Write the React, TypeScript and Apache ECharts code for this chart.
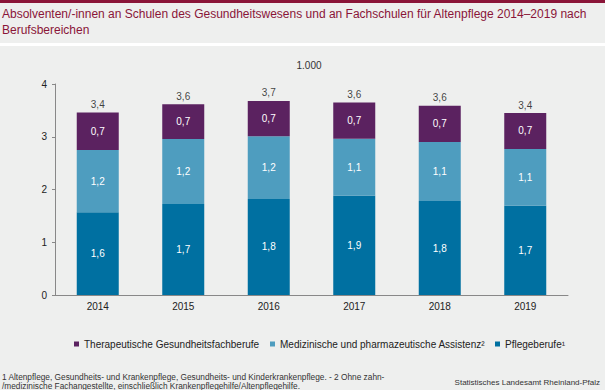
import React, { useEffect, useRef } from "react";
import * as echarts from "echarts";

const years = ["2014", "2015", "2016", "2017", "2018", "2019"];
const pflegeberufe = [1.57, 1.725, 1.82, 1.88, 1.78, 1.69];
const medizinisch = [1.18, 1.23, 1.19, 1.08, 1.12, 1.08];
const therapeutisch = [0.71, 0.66, 0.67, 0.69, 0.69, 0.68];
const totalLabels = ["3,4", "3,6", "3,7", "3,6", "3,6", "3,4"];
const yTicks = [0, 1, 2, 3, 4];

const names = [
  "Therapeutische Gesundheitsfachberufe",
  "Medizinische und pharmazeutische Assistenz²",
  "Pflegeberufe¹",
];
const colors = ["#5b2260", "#4e9dbf", "#0070a1"];
const FONT = "'Liberation Sans', Arial, sans-serif";

const fmt = (v: number) => v.toFixed(1).replace(".", ",");

export default function App() {
  const ref = useRef<HTMLDivElement>(null);
  useEffect(() => {
    if (!ref.current) return;
    const chart = echarts.init(ref.current, undefined, { renderer: "svg" });
    const totals = years.map((_, i) => pflegeberufe[i] + medizinisch[i] + therapeutisch[i]);
    const segLabel = {
      show: true,
      position: "inside" as const,
      color: "#ffffff",
      fontSize: 10,
      fontFamily: FONT,
      formatter: (p: any) => fmt(p.value),
    };
    const legendBase = {
      top: 334,
      itemWidth: 5,
      itemHeight: 5,
      icon: "rect",
      itemGap: 5,
      selectedMode: false,
      textStyle: { fontSize: 10, color: "#222", fontFamily: FONT },
    };
    chart.setOption({
      animation: false,
      backgroundColor: "#eeefee",
      textStyle: { fontFamily: FONT },
      grid: { left: 55, right: 37, top: 84, bottom: 95 },
      legend: [
        { ...legendBase, left: 69, data: [names[0]] },
        { ...legendBase, left: 265, data: [names[1]] },
        { ...legendBase, left: 490, data: [names[2]] },
      ],
      xAxis: {
        type: "category",
        data: years,
        axisLine: { lineStyle: { color: "#888", width: 1 } },
        axisTick: { show: false },
        axisLabel: { color: "#222", fontSize: 10, margin: 6, fontFamily: FONT },
      },
      yAxis: {
        type: "value",
        min: yTicks[0],
        max: yTicks[yTicks.length - 1],
        interval: 1,
        axisLine: { show: true, lineStyle: { color: "#888", width: 1 } },
        axisTick: { show: true, length: 3, lineStyle: { color: "#888" } },
        splitLine: { show: false },
        axisLabel: { color: "#222", fontSize: 10, margin: 8, fontFamily: FONT },
      },
      series: [
        {
          name: names[2],
          type: "bar",
          stack: "total",
          barWidth: 42,
          data: pflegeberufe,
          itemStyle: { color: colors[2] },
          label: segLabel,
        },
        {
          name: names[1],
          type: "bar",
          stack: "total",
          barWidth: 42,
          data: medizinisch,
          itemStyle: { color: colors[1] },
          label: segLabel,
        },
        {
          name: names[0],
          type: "bar",
          stack: "total",
          barWidth: 42,
          data: therapeutisch,
          itemStyle: { color: colors[0] },
          label: segLabel,
        },
        {
          name: "total",
          type: "scatter",
          data: totals,
          symbolSize: 0,
          silent: true,
          label: {
            show: true,
            position: "top",
            distance: 3,
            color: "#111",
            fontSize: 10,
            fontFamily: FONT,
            formatter: (p: any) => totalLabels[p.dataIndex],
          },
        },
      ],
      graphic: [
        { type: "rect", left: 0, top: 0, shape: { width: 605, height: 3 }, style: { fill: "#8a1538" }, z: 10 },
        { type: "rect", left: 0, top: 43, shape: { width: 605, height: 3 }, style: { fill: "#ffffff" }, z: 10 },
        {
          type: "text",
          left: 2,
          top: 6,
          style: {
            text: "Absolventen/-innen an Schulen des Gesundheitswesens und an Fachschulen für Altenpflege 2014–2019 nach\nBerufsbereichen",
            fill: "#8a1538",
            font: `12px ${FONT}`,
            lineHeight: 16,
          },
        },
        {
          type: "text",
          x: 309,
          y: 65,
          style: {
            text: "1.000",
            fill: "#333",
            font: `10px ${FONT}`,
            align: "center",
            verticalAlign: "middle",
          },
        },
        {
          type: "text",
          left: 2,
          top: 372,
          style: {
            text: "1 Altenpflege, Gesundheits- und Krankenpflege, Gesundheits- und Kinderkrankenpflege. - 2 Ohne zahn-\n/medizinische Fachangestellte, einschließlich Krankenpflegehilfe/Altenpflegehilfe.",
            fill: "#333",
            font: `8.3px ${FONT}`,
            lineHeight: 9,
          },
        },
        {
          type: "text",
          x: 600,
          y: 382,
          style: {
            text: "Statistisches Landesamt Rheinland-Pfalz",
            fill: "#333",
            font: `8px ${FONT}`,
            align: "right",
            verticalAlign: "middle",
          },
        },
      ],
    });
    return () => chart.dispose();
  }, []);
  return (
    <div
      ref={ref}
      style={{ position: "absolute", left: 0, top: 0, width: 605, height: 390 }}
    />
  );
}
